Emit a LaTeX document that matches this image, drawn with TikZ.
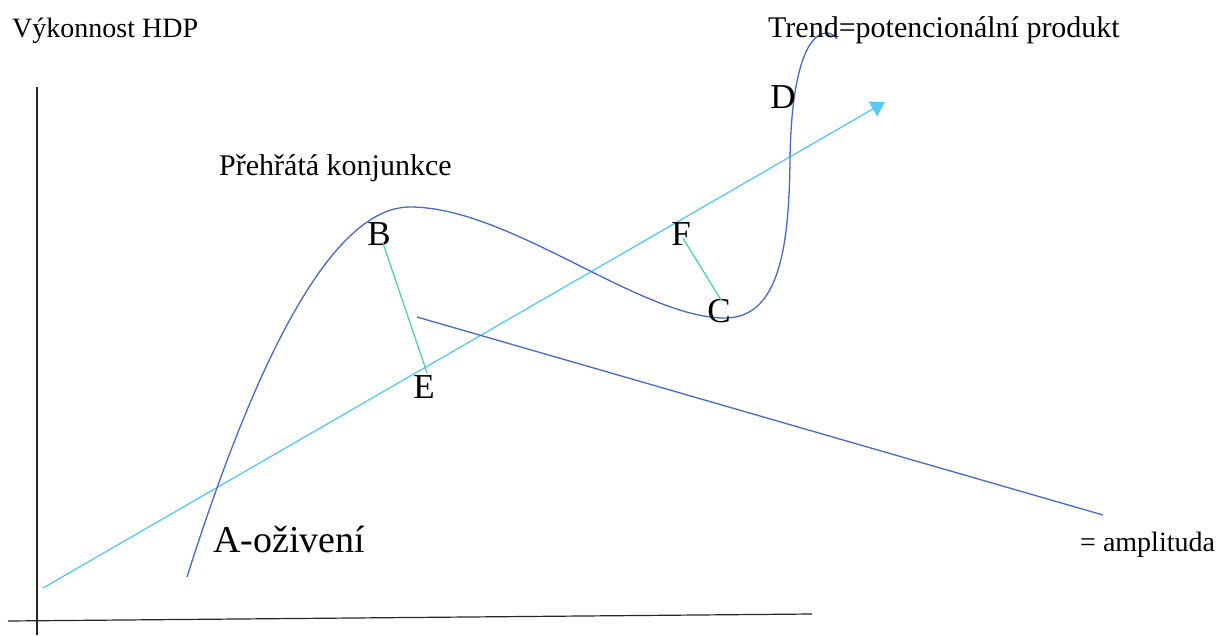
\documentclass[tikz,border=0pt]{standalone}
\usepackage{fontspec}
\setmainfont{Liberation Serif}
\usetikzlibrary{arrows.meta}
\definecolor{curveblue}{HTML}{4A68CC}
\definecolor{trendcyan}{HTML}{5BC8F2}
\definecolor{ampgreen}{HTML}{4FD2B0}
\tikzset{
  lbl/.style={inner sep=0pt, font=\fontsize{28}{30}\selectfont, anchor=base west},
  pt/.style={inner sep=0pt, font=\fontsize{35}{38}\selectfont, text height=23pt, text depth=0pt, anchor=base},
  axis/.style={line width=1.2pt, draw=black!85},
  curve/.style={line width=1.3pt, draw=curveblue},
  trend/.style={line width=1.3pt, draw=trendcyan, -{Triangle[length=14pt,width=17pt]}},
  amp/.style={line width=1.3pt, draw=ampgreen},
}
\begin{document}
\begin{tikzpicture}[x=1pt,y=-1pt]
\useasboundingbox (0,0) rectangle (1227,635);
% axes
\coordinate (yTop) at (37,87);
\coordinate (yBot) at (37,635);
\coordinate (xL) at (8,621);
\coordinate (xR) at (812,614);
\draw[axis] (yTop) -- (yBot);
\draw[axis] (xL) -- (xR);
% trend
\coordinate (tS) at (43,588);
\coordinate (tE) at (885,102);
\draw[trend] (tS) -- (tE);
% cycle curve
\draw[curve] (187,577) .. controls (240,410) and (320,207) .. (410,207)
  .. controls (510,207) and (640,318) .. (725,318)
  .. controls (780,318) and (789,245) .. (790,160)
  .. controls (791,80) and (805,33) .. (827,33)
  .. controls (831,33) and (835,36) .. (837,39);
% amplitude pointer
\coordinate (aS) at (417,317);
\coordinate (aE) at (1103,515);
\draw[curve] (aS) -- (aE);
% texts
\node[lbl] (vyk) at (12,37) {Výkonnost HDP};
\node[lbl, font=\fontsize{30}{32}\selectfont] (trendlbl) at (768,37) {Trend=potencionální produkt};
\node[lbl, font=\fontsize{30}{32}\selectfont] (preh) at (219,175) {Přehřátá konjunkce};
\node[lbl] (ampl) at (1080,551) {= amplituda};
\node[lbl, font=\fontsize{38}{40}\selectfont] (A) at (213,552) {A-oživení};
\node[pt] (B) at (379,245) {B};
\node[pt] (C) at (719,322) {C};
\node[pt] (D) at (783,108) {D};
\node[pt] (E) at (424,398) {E};
\node[pt] (F) at (681,245) {F};
% amplitudes
\draw[amp] ([xshift=4pt,yshift=2pt]B.south) -- ([xshift=3pt,yshift=2pt]E.north);
\draw[amp] ([xshift=2pt,yshift=7pt]F.south) -- ([xshift=2pt,yshift=-1pt]C.north);
\end{tikzpicture}
\end{document}
